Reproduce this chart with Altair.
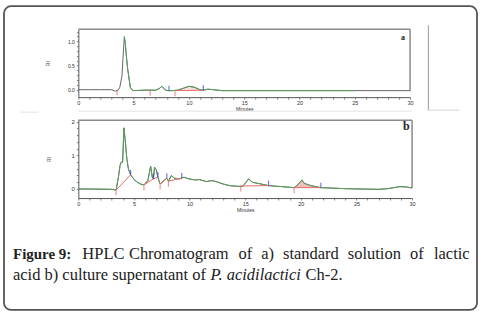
import altair as alt
import pandas as pd
import numpy as np

# ---------------- data ----------------
# panel a : lactic acid standard
a_time = [0, 1, 2, 3.0, 3.35, 3.6, 3.75, 3.95, 4.05, 4.16, 4.25, 4.34, 4.45, 4.55, 4.7, 4.85, 5.0, 6.0, 7.0, 7.3,
          7.55, 7.75, 7.9, 8.1, 8.5, 9.0, 9.5, 10.0, 10.5, 11.0, 11.3, 11.7, 12.2, 13.0, 15.0, 20.0, 25.0, 30.0]
a_signal = [0, 0, 0, 0, -0.03, -0.01, 0.05, 0.29, 0.7, 1.1, 0.95, 0.71, 0.45, 0.29, 0.05, 0.0, -0.02, -0.01, -0.01, 0.02,
            0.07, 0.02, -0.01, -0.02, -0.02, -0.01, 0.03, 0.07, 0.05, 0.0, -0.01, 0.01, 0.0, -0.02, -0.02, -0.02, -0.02, -0.02]
a_seg_start_t = [8.9]
a_seg_start_v = [-0.02]
a_seg_end_t = [11.3]
a_seg_end_v = [-0.01]
a_seg_fill = [True]
a_red_t = [3.5, 6.5, 8.75]
a_red_v = [0.0, -0.01, -0.02]
a_blue_t = [8.2, 11.3]
a_blue_v = [-0.02, -0.01]

# panel b : culture supernatant
b_time = [0, 1, 2, 3.0, 3.4, 3.6, 3.75, 3.85, 3.98, 4.1, 4.2, 4.36, 4.5, 4.7, 5.1, 5.55, 5.9, 6.25, 6.5, 6.65,
          6.75, 6.85, 7.0, 7.15, 7.35, 7.55, 7.8, 7.95, 8.1, 8.35, 8.65, 9.1, 9.5, 9.95, 10.45, 10.9, 11.5, 12.0, 12.4, 13.0,
          13.6, 14.3, 14.8, 15.3, 15.65, 16.4, 17.1, 17.9, 19.4, 19.8, 20.1, 20.3, 20.9, 21.8, 24.0, 27.0, 27.8, 28.9, 29.5, 30.0]
b_signal = [0.0, 0.0, -0.005, -0.01, -0.03, 0.35, 0.7, 0.8, 0.8, 1.82, 1.5, 0.9, 0.6, 0.42, 0.25, 0.15, 0.12, 0.25, 0.68, 0.35,
            0.3, 0.65, 0.58, 0.35, 0.15, 0.2, 0.28, 0.32, 0.23, 0.4, 0.32, 0.3, 0.35, 0.3, 0.27, 0.28, 0.22, 0.25, 0.22, 0.15,
            0.1, 0.08, 0.08, 0.3, 0.2, 0.15, 0.1, 0.08, 0.04, 0.15, 0.27, 0.17, 0.1, 0.04, 0.01, -0.01, 0.01, 0.07, 0.06, 0.03]
b_seg_start_t = [3.4, 5.9, 6.75, 7.35, 8.1, 14.6, 19.4]
b_seg_start_v = [-0.03, 0.12, 0.3, 0.15, 0.23, 0.09, 0.04]
b_seg_end_t = [4.7, 6.75, 7.15, 7.95, 9.3, 17.1, 21.8]
b_seg_end_v = [0.42, 0.3, 0.35, 0.32, 0.33, 0.1, 0.04]
b_seg_fill = [False, False, False, False, False, False, True]
b_red_t = [3.4, 5.9, 7.35, 8.1, 14.6, 19.4]
b_red_v = [-0.03, 0.12, 0.15, 0.23, 0.09, 0.04]
b_blue_t = [4.7, 6.75, 7.15, 7.95, 9.3, 17.1, 21.8]
b_blue_v = [0.42, 0.3, 0.35, 0.32, 0.33, 0.1, 0.04]

minute_ticks = list(range(0, 31))
a_y_ticks = [round(i * 0.1, 1) for i in range(0, 13)]
b_y_ticks = [round(i * 0.2, 1) for i in range(0, 11)]

caption_line1 = ["Figure 9:", "HPLC", "Chromatogram", "of", "a)", "standard", "solution", "of", "lactic"]
caption_line2 = ["acid b) culture supernatant of", "P. acidilactici", "Ch-2."]

# ---------------- styles ----------------
GREEN = "#5a9e5a"
RED = "#e86a6a"
PINK = "#f3a3a3"
BLUE = "#2f3fe0"
FRAME = "#8a8a8a"
SERIF = "Liberation Serif"
SANS = "Liberation Sans"

one = pd.DataFrame({"k": [0]})


def deco_rule(x, y, x2=None, y2=None, color=FRAME, width=1.0):
    enc = dict(x=alt.value(x), y=alt.value(y))
    if x2 is not None:
        enc["x2"] = alt.value(x2)
    if y2 is not None:
        enc["y2"] = alt.value(y2)
    return alt.Chart(one).mark_rule(color=color, strokeWidth=width).encode(**enc)


def deco_text(txt, x, y, size, weight="normal", style="normal", font=SERIF, align="left", color="#222"):
    return alt.Chart(one).mark_text(text=txt, fontSize=size, fontWeight=weight, fontStyle=style, font=font,
                                    align=align, baseline="alphabetic", color=color).encode(
        x=alt.value(x), y=alt.value(y))


def panel(time, signal, seg_t0, seg_v0, seg_t1, seg_v1, seg_fill, red_t, red_v, blue_t, blue_v,
          ydom, yticks, ylabel_expr, ytitle_pad, ylabel_size, w, h, green_range, fill_opacity):
    trace = pd.DataFrame({"t": time, "v": signal})
    xscale = alt.Scale(domain=[0, 30], nice=False, zero=False)
    yscale = alt.Scale(domain=ydom, nice=False, zero=False)
    xaxis = alt.Axis(values=minute_ticks, labelExpr="datum.value % 5 === 0 ? datum.label : ''",
                     title="Minutes", titlePadding=1, labelPadding=1, labelFontSize=5.5, labelFlush=False,
                     labelOverlap=False, labelBound=False)
    yaxis = alt.Axis(values=yticks, labelExpr=ylabel_expr, title="RI", titlePadding=ytitle_pad,
                     labelPadding=2, labelFontSize=ylabel_size, labelOverlap=False, labelBound=False,
                     labelFlush=False)

    def X():
        return alt.X("t:Q", scale=xscale, axis=xaxis)

    def Y():
        return alt.Y("v:Q", scale=yscale, axis=yaxis)

    layers = []
    for t0, v0, t1, v1, f in zip(seg_t0, seg_v0, seg_t1, seg_v1, seg_fill):
        if not f:
            continue
        ts = [t0] + [t for t in time if t0 < t < t1] + [t1]
        area = pd.DataFrame({"t": ts, "v": np.interp(ts, time, signal),
                             "b": np.interp(ts, [t0, t1], [v0, v1])})
        layers.append(alt.Chart(area).mark_area(color=PINK, opacity=fill_opacity).encode(
            x=X(), y=Y(), y2="b:Q"))
    layers.append(alt.Chart(trace).mark_line(color="#666666", strokeWidth=1).encode(x=X(), y=Y()))
    gtrace = trace[(trace.t >= green_range[0]) & (trace.t <= green_range[1])]
    layers.append(alt.Chart(gtrace).mark_line(color=GREEN, strokeWidth=1).encode(x=X(), y=Y()))
    seg = pd.DataFrame({"t": seg_t0, "v": seg_v0, "t2": seg_t1, "v2": seg_v1})
    layers.append(alt.Chart(seg).mark_rule(color=RED, strokeWidth=1).encode(
        x=X(), y=Y(), x2="t2:Q", y2="v2:Q"))
    reds = pd.DataFrame({"t": red_t, "v": red_v})
    layers.append(alt.Chart(reds).mark_tick(orient="vertical", color=RED, size=5, thickness=1.2, yOffset=3).encode(
        x=X(), y=Y()))
    blues = pd.DataFrame({"t": blue_t, "v": blue_v})
    layers.append(alt.Chart(blues).mark_tick(orient="vertical", color=BLUE, size=5, thickness=1.2, yOffset=-2.5).encode(
        x=X(), y=Y()))
    layers.append(deco_rule(0, 0, x2=w, color=FRAME, width=1.5))
    return layers


# ---- panel a ----
WA, HA = 332, 68
layers_a = panel(a_time, a_signal, a_seg_start_t, a_seg_start_v, a_seg_end_t, a_seg_end_v, a_seg_fill,
                 a_red_t, a_red_v, a_blue_t, a_blue_v,
                 [-0.155, 1.255], a_y_ticks,
                 "round(datum.value*10) % 5 === 0 ? format(datum.value, '.1f') : ''", 17, 5, WA, HA, (4.1, 25), 0.35)
layers_a += [
    deco_rule(WA, 0, y2=62, color=FRAME, width=1.5),
    deco_text("a", 323, 11, 8, weight="bold"),
    alt.Chart(one).mark_rect(cornerRadius=7, fill="white", fillOpacity=0, stroke="#555555", strokeWidth=1.8).encode(
        x=alt.value(-74.4), x2=alt.value(399), y=alt.value(-23), y2=alt.value(281)),
    deco_rule(350.3, -4, y2=81, color="#9a9a9a", width=1),
    deco_rule(350.3, 81, x2=381.3, color="#d5d5d5", width=1),
    deco_rule(0, 82, x2=334, color="#e2e2e2", width=1),
    deco_rule(-58, 83, x2=-40, color="#e2e2e2", width=1),
]
chart_a = alt.layer(*layers_a).properties(width=WA, height=HA)

# ---- panel b ----
WB, HB = 334, 78
layers_b = panel(b_time, b_signal, b_seg_start_t, b_seg_start_v, b_seg_end_t, b_seg_end_v, b_seg_fill,
                 b_red_t, b_red_v, b_blue_t, b_blue_v,
                 [-0.27, 2.05], b_y_ticks,
                 "round(datum.value*10) % 10 === 0 ? format(datum.value, 'd') : ''", 20, 6, WB, HB, (0, 30), 0.7)
layers_b += [
    deco_rule(WB, 0, y2=68, color=FRAME, width=1.5),
    deco_text("b", 325, 10, 12, weight="bold"),
]
OX = 77.7
line1_x = [12.3, 81.7, 128.3, 238, 260.7, 282.5, 347.4, 409.6, 469.3]
for i, word in enumerate(caption_line1):
    if i == 0:
        layers_b.append(deco_text(word, line1_x[i] - OX, 138.7, 15, weight="bold"))
    else:
        al = "right" if i == len(caption_line1) - 1 else "left"
        layers_b.append(deco_text(word, line1_x[i] - OX, 138.7, 16.5, align=al))
line2_x = [12.3, 210, 305]
for i, word in enumerate(caption_line2):
    st = "italic" if i == 1 else "normal"
    layers_b.append(deco_text(word, line2_x[i] - OX, 159.7, 16.5, style=st))
chart_b = alt.layer(*layers_b).properties(width=WB, height=HB)

chart = alt.vconcat(chart_a, chart_b, spacing=23, bounds="flush").properties(
    padding={"left": 2.4, "top": 5.1, "right": 10, "bottom": 3},
    autosize=alt.AutoSizeParams(type="pad"),
    background="white",
).configure_view(stroke=None).configure_axis(
    grid=False, domainColor="#555555", tickColor="#666666", labelColor="#333333", titleColor="#333333",
    labelFont=SANS, titleFont=SANS, titleFontSize=5, titleFontWeight="normal", tickSize=2, domainWidth=1,
    tickWidth=0.8,
)

chart.save("out.html", embed_options={"renderer": "svg", "actions": False})
